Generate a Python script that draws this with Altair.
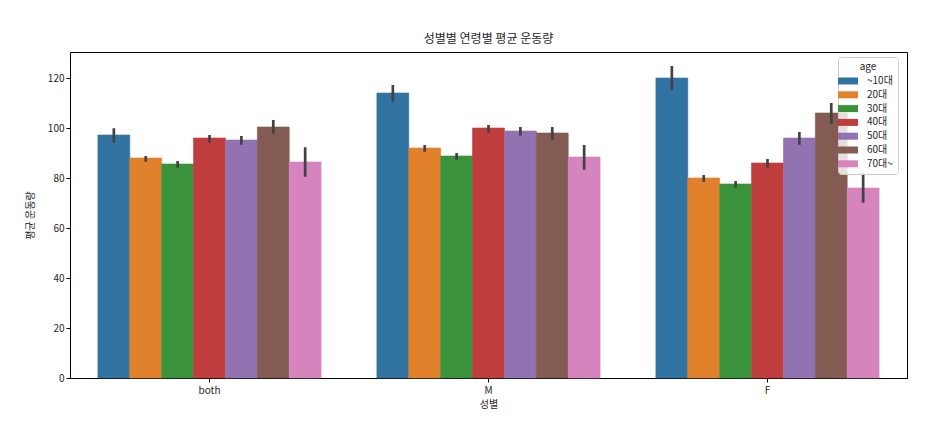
import altair as alt
import pandas as pd

sexes = ["both", "M", "F"]
ages = ["~10대", "20대", "30대", "40대", "50대", "60대", "70대~"]
colors = ["#3274a1", "#e1812c", "#3a923a", "#c03d3e", "#9372b2", "#845b53", "#d684bd"]

means_both = [97.2, 88.0, 85.6, 96.0, 95.2, 100.4, 86.4]
means_m = [114.0, 92.0, 88.8, 100.0, 98.8, 98.0, 88.4]
means_f = [120.0, 80.0, 77.6, 86.0, 96.0, 106.0, 76.0]
lo_both = [94.1, 86.5, 84.1, 94.1, 93.3, 97.7, 80.5]
hi_both = [99.9, 88.8, 86.8, 97.2, 96.8, 103.2, 92.3]
lo_m = [110.5, 90.5, 87.3, 98.1, 96.9, 95.3, 83.3]
hi_m = [117.2, 93.2, 90.0, 101.2, 100.4, 100.4, 93.2]
lo_f = [115.3, 78.5, 76.1, 84.1, 93.3, 101.6, 70.1]
hi_f = [124.8, 81.2, 78.8, 87.6, 98.4, 110.0, 82.0]

rows = []
for s, m, lo, hi in zip(sexes, [means_both, means_m, means_f],
                        [lo_both, lo_m, lo_f], [hi_both, hi_m, hi_f]):
    for a, v, l, h in zip(ages, m, lo, hi):
        rows.append({"sex": s, "age": a, "mean": v, "lo": l, "hi": h})
df = pd.DataFrame(rows)

FONT = "Noto Sans CJK KR"
TXT = "#262626"

x = alt.X("sex:N", sort=sexes, title="성별",
          scale=alt.Scale(paddingInner=0.2, paddingOuter=0.1),
          axis=alt.Axis(labelAngle=0, labelFontSize=10, titleFontSize=10,
                        titleFontWeight="normal", labelColor=TXT, titleColor=TXT,
                        domainColor="black", tickColor="black", tickSize=4,
                        titlePadding=4, labelPadding=3))
xo = alt.XOffset("age:N", sort=ages, scale=alt.Scale(paddingInner=0, paddingOuter=0))

bars = alt.Chart(df).mark_bar(strokeWidth=0.6).encode(
    x=x,
    xOffset=xo,
    y=alt.Y("mean:Q", title="평균 운동량",
            scale=alt.Scale(domain=[0, 130.4], nice=False, zero=True),
            axis=alt.Axis(values=[0, 20, 40, 60, 80, 100, 120], grid=False,
                          labelFontSize=10, titleFontSize=10, titleFontWeight="normal",
                          labelColor=TXT, titleColor=TXT, domainColor="black",
                          tickColor="black", tickSize=4, titlePadding=12)),
    stroke=alt.Stroke("age:N", sort=ages, scale=alt.Scale(domain=ages, range=colors),
                      legend=None),
    color=alt.Color("age:N", sort=ages, title="age",
                    scale=alt.Scale(domain=ages, range=colors),
                    legend=alt.Legend(orient="none", legendX=768, legendY=5,
                                      symbolType="M-2,-0.7L2,-0.7L2,0.7L-2,0.7Z",
                                      symbolSize=100, symbolStrokeWidth=0,
                                      labelFontSize=10, titleFontSize=10,
                                      titleFontWeight="normal", titleAnchor="middle",
                                      fillColor="rgba(255,255,255,0.8)",
                                      strokeColor="#cccccc", cornerRadius=3,
                                      padding=5, rowPadding=3.8, labelOffset=14,
                                      titlePadding=4,
                                      labelColor=TXT, titleColor=TXT)),
)

errs = alt.Chart(df).mark_rule(color="#424242", strokeWidth=2.7).encode(
    x=alt.X("sex:N", sort=sexes),
    xOffset=alt.XOffset("age:N", sort=ages),
    y="lo:Q",
    y2="hi:Q",
)

chart = alt.layer(bars, errs).properties(
    width=837, height=326,
    title=alt.TitleParams("성별별 연령별 평균 운동량", fontSize=12, fontWeight="normal",
                          color=TXT, offset=6),
    autosize=alt.AutoSizeParams(type="none"),
    padding={"left": 70, "top": 52, "right": 43, "bottom": 54},
).configure(font=FONT).configure_view(stroke="black", strokeWidth=1)

chart.save("out.html", embed_options={"renderer": "svg", "actions": False})
